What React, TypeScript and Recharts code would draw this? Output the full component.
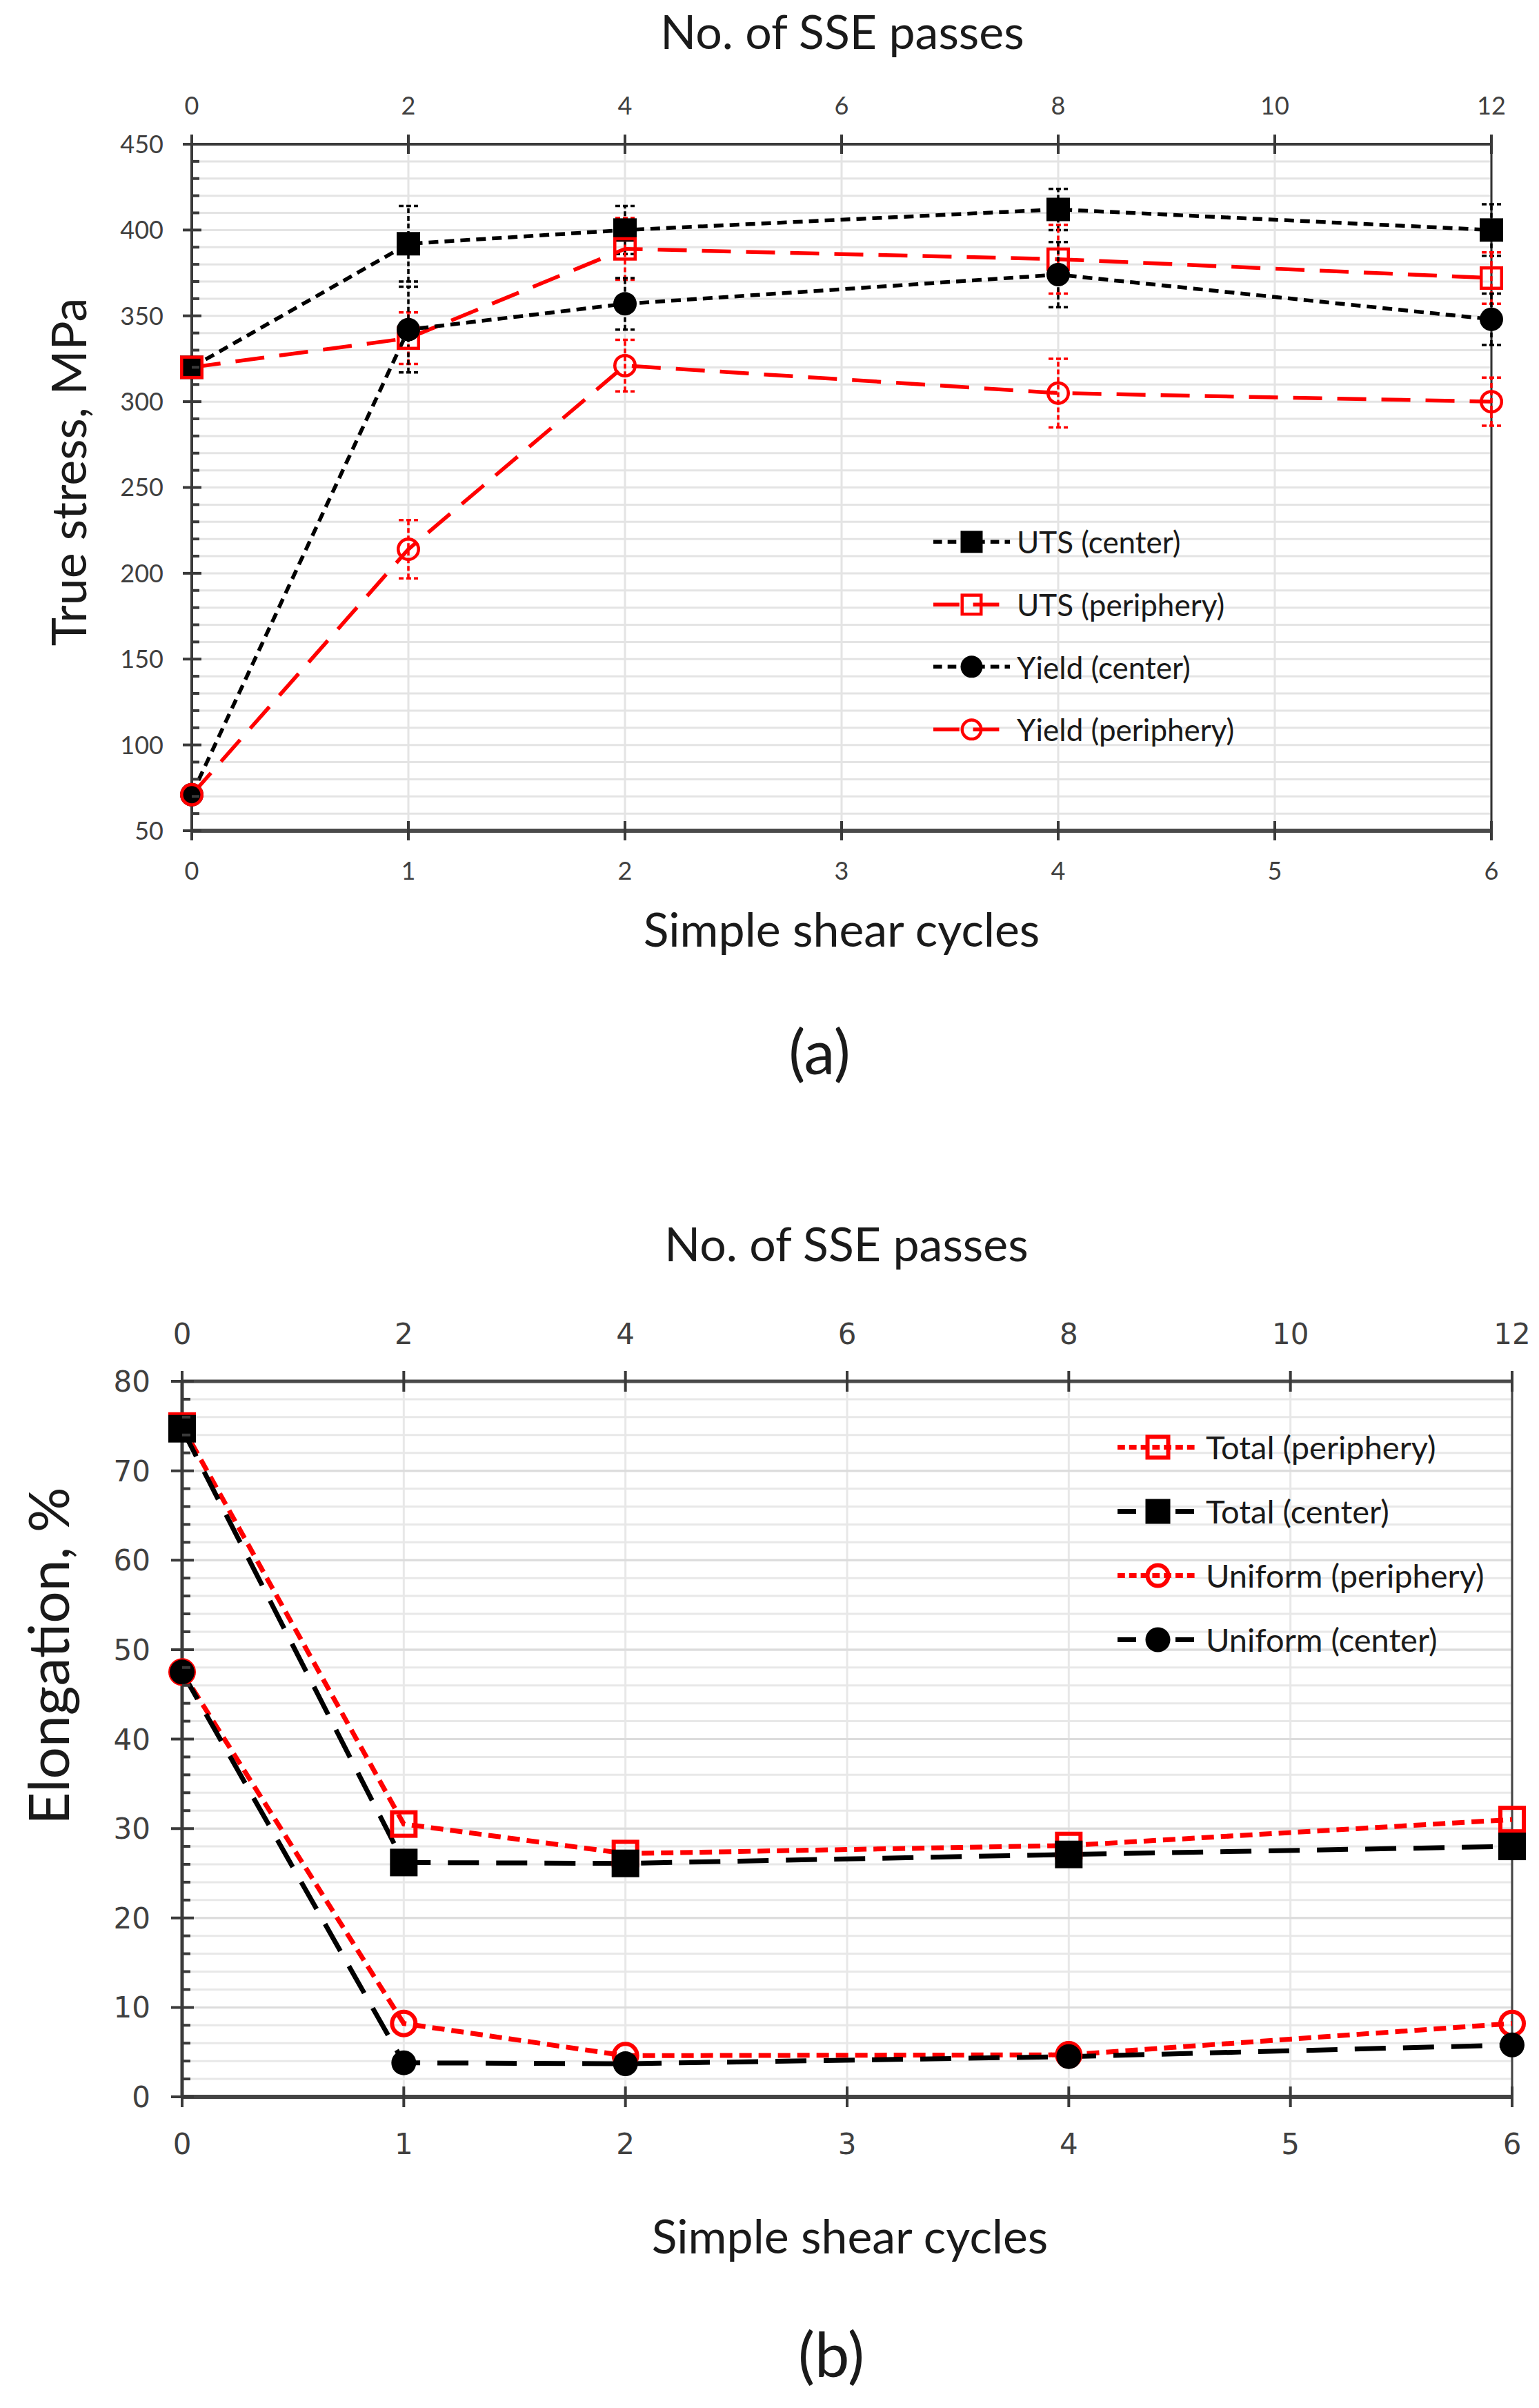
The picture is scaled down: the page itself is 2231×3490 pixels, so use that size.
import React from 'react';
import { LineChart, Line, XAxis, YAxis, CartesianGrid, ReferenceLine, ErrorBar, Legend } from 'recharts';

// ---------- data: chart (a) ----------
const cycles = [0, 1, 2, 4, 6];
const passes = [0, 2, 4, 8, 12];
const utsCenter = [320, 392, 400, 412, 400];
const utsPeriphery = [320, 337, 389, 383, 372];
const yieldCenter = [71, 342, 357, 374, 348];
const yieldPeriphery = [71, 214, 321, 305, 300];
const utsCenterErr = [0, 22, 14, 12, 15];
const utsPeripheryErr = [0, 15, 18, 20, 15];
const yieldCenterErr = [0, 25, 15, 19, 15];
const yieldPeripheryErr = [0, 17, 15, 20, 14];

// ---------- data: chart (b) ----------
const totalPeriphery = [75, 30.5, 27.2, 28.1, 31];
const totalCenter = [74.7, 26.2, 26.1, 27.1, 28];
const uniformPeriphery = [47.5, 8.2, 4.6, 4.7, 8.2];
const uniformCenter = [47.5, 3.8, 3.7, 4.5, 5.8];

// ---------- ticks ----------
const cycleTicks = [0, 1, 2, 3, 4, 5, 6];
const passTicks = [0, 2, 4, 6, 8, 10, 12];
const stressTicks = [50, 100, 150, 200, 250, 300, 350, 400, 450];
const elongTicks = [0, 10, 20, 30, 40, 50, 60, 70, 80];
const stressMinor: number[] = [];
for (let v = 50; v <= 450; v += 10) stressMinor.push(v);
const elongMinor: number[] = [];
for (let v = 0; v <= 80; v += 2) elongMinor.push(v);

const dataA = cycles.map((c, i) => ({
  cycle: c,
  passes: passes[i],
  utsC: utsCenter[i],
  utsP: utsPeriphery[i],
  yC: yieldCenter[i],
  yP: yieldPeriphery[i],
  utsCErr: utsCenterErr[i],
  utsPErr: utsPeripheryErr[i],
  yCErr: yieldCenterErr[i],
  yPErr: yieldPeripheryErr[i],
}));

const dataB = cycles.map((c, i) => ({
  cycle: c,
  passes: passes[i],
  tP: totalPeriphery[i],
  tC: totalCenter[i],
  uP: uniformPeriphery[i],
  uC: uniformCenter[i],
}));

const RED = '#ff0000';
const BLK = '#000000';
const LATO = "Lato, 'Open Sans', sans-serif";
const DEJAVU = "'DejaVu Sans', Verdana, sans-serif";

const seriesA = [
  { key: 'utsC', err: 'utsCErr', name: 'UTS (center)', color: BLK, dash: '14 9', shape: 'square', filled: true },
  { key: 'utsP', err: 'utsPErr', name: 'UTS (periphery)', color: RED, dash: '42 22', shape: 'square', filled: false },
  { key: 'yC', err: 'yCErr', name: 'Yield (center)', color: BLK, dash: '14 9', shape: 'circle', filled: true },
  { key: 'yP', err: 'yPErr', name: 'Yield (periphery)', color: RED, dash: '42 22', shape: 'circle', filled: false },
];

const seriesB = [
  { key: 'tP', name: 'Total (periphery)', color: RED, dash: '18 10', shape: 'square', filled: false },
  { key: 'tC', name: 'Total (center)', color: BLK, dash: '45 25', shape: 'square', filled: true },
  { key: 'uP', name: 'Uniform (periphery)', color: RED, dash: '18 10', shape: 'circle', filled: false },
  { key: 'uC', name: 'Uniform (center)', color: BLK, dash: '45 25', shape: 'circle', filled: true },
];

function Marker({ cx, cy, shape, filled, color, size, sw }: any) {
  if (cx == null || cy == null) return null;
  const h = size / 2;
  if (shape === 'square') {
    return filled ? (
      <rect x={cx - h} y={cy - h} width={size} height={size} fill={color} />
    ) : (
      <rect x={cx - h + sw / 2} y={cy - h + sw / 2} width={size - sw} height={size - sw} fill="none" stroke={color} strokeWidth={sw} />
    );
  }
  return filled ? (
    <circle cx={cx} cy={cy} r={h} fill={color} />
  ) : (
    <circle cx={cx} cy={cy} r={h - sw / 2} fill="none" stroke={color} strokeWidth={sw} />
  );
}

const makeYTick = (o: any) => (props: any) => {
  const { x, y, payload } = props;
  const v = payload.value;
  const major = o.majors.includes(v);
  return (
    <g>
      <line
        x1={major ? x - o.out : x}
        x2={x + (major ? o.inMajor : o.inMinor)}
        y1={y}
        y2={y}
        stroke={o.color}
        strokeWidth={o.sw}
      />
      {major && (
        <text x={x - o.gap} y={y} dy={o.fs * 0.36} textAnchor="end" fontFamily={o.font} fontSize={o.fs} fill={o.text}>
          {v}
        </text>
      )}
    </g>
  );
};

const makeXTick = (o: any) => (props: any) => {
  const { x, y, payload } = props;
  const dir = o.top ? -1 : 1;
  return (
    <g>
      <line x1={x} x2={x} y1={y - dir * o.inside} y2={y + dir * o.out} stroke={o.color} strokeWidth={o.sw} />
      <text
        x={x}
        y={y + dir * o.gap}
        dy={o.fs * 0.36}
        textAnchor="middle"
        fontFamily={o.font}
        fontSize={o.fs}
        fill={o.text}
      >
        {payload.value}
      </text>
    </g>
  );
};

const makeLegend = (series: any[], o: any) => () => (
  <div style={{ display: 'flex', flexDirection: 'column' }}>
    {series.map((s) => (
      <div key={s.key} style={{ height: o.row, display: 'flex', alignItems: 'center' }}>
        <svg width={o.iconW} height={o.row} style={{ display: 'block' }}>
          <line x1={0} x2={o.iconW} y1={o.row / 2} y2={o.row / 2} stroke={s.color} strokeWidth={o.lw} strokeDasharray={s.dash.split(' ').map((d: string) => Number(d) * o.dashScale).join(' ')} />
          <Marker cx={o.iconW / 2} cy={o.row / 2} shape={s.shape} filled={s.filled} color={s.color} size={o.size} sw={o.msw} />
        </svg>
        <span style={{ marginLeft: o.textGap, fontFamily: LATO, fontSize: o.fs, color: '#1a1a1a', whiteSpace: 'nowrap', lineHeight: 1 }}>
          {s.name}
        </span>
      </div>
    ))}
  </div>
);

function Title({ x, y, text, size, rotate }: any) {
  return (
    <div
      style={{
        position: 'absolute',
        left: x,
        top: y,
        transform: `translate(-50%, -50%)${rotate ? ' rotate(-90deg)' : ''}`,
        fontFamily: LATO,
        fontSize: size,
        lineHeight: 1,
        whiteSpace: 'nowrap',
        color: '#1a1a1a',
      }}
    >
      {text}
    </div>
  );
}

function ChartA() {
  const axisColor = '#3a3a3a';
  const yTick = makeYTick({ majors: stressTicks, out: 13, inMajor: 14, inMinor: 11, sw: 4, gap: 41, fs: 36, font: LATO, text: '#404040', color: axisColor });
  const xBottom = makeXTick({ top: false, inside: 14, out: 14, sw: 4, gap: 58, fs: 36, font: LATO, text: '#404040', color: axisColor });
  const xTop = makeXTick({ top: true, inside: 14, out: 14, sw: 4, gap: 56, fs: 36, font: LATO, text: '#404040', color: axisColor });
  return (
    <div style={{ position: 'absolute', left: 0, top: 0 }}>
      <LineChart width={2231} height={1304} data={dataA} margin={{ top: 0, right: 69, bottom: 0, left: 0 }}>
        <CartesianGrid xAxisId="bottom" yAxisId="left" horizontalValues={stressMinor} verticalValues={cycleTicks} stroke="#e4e4e4" strokeWidth={3} />
        <XAxis xAxisId="bottom" dataKey="cycle" type="number" domain={[0, 6]} ticks={cycleTicks} interval={0} height={100} tickSize={0} tickMargin={0} tickLine={false} tick={xBottom} axisLine={{ stroke: '#4a4a4a', strokeWidth: 6 }} />
        <XAxis xAxisId="top" orientation="top" dataKey="passes" type="number" domain={[0, 12]} ticks={passTicks} interval={0} height={209} tickSize={0} tickMargin={0} tickLine={false} tick={xTop} axisLine={{ stroke: axisColor, strokeWidth: 4 }} />
        <YAxis yAxisId="left" type="number" domain={[50, 450]} ticks={stressMinor} interval={0} width={278} tickSize={0} tickMargin={0} tickLine={false} tick={yTick} allowDataOverflow axisLine={{ stroke: axisColor, strokeWidth: 4 }} />
        <ReferenceLine xAxisId="bottom" yAxisId="left" x={6} stroke="#333" strokeWidth={3} />
        {seriesA.map((s) => (
          <Line
            key={s.key}
            xAxisId="bottom"
            yAxisId="left"
            type="linear"
            dataKey={s.key}
            name={s.name}
            stroke={s.color}
            strokeWidth={5.5}
            strokeDasharray={s.dash}
            isAnimationActive={false}
            activeDot={false}
            dot={(p: any) => <Marker key={`${s.key}-${p.index}`} cx={p.cx} cy={p.cy} shape={s.shape} filled={s.filled} color={s.color} size={34} sw={4.5} />}
          >
            <ErrorBar dataKey={s.err} direction="y" width={14} stroke={s.color} strokeWidth={3.5} strokeDasharray="7 4" />
          </Line>
        ))}
        <Legend
          layout="vertical"
          align="center"
          verticalAlign="middle"
          wrapperStyle={{ left: 1353, top: 740, width: 700, height: 370 }}
          content={makeLegend(seriesA, { row: 90.7, iconW: 111, lw: 5.5, size: 32, msw: 4.5, textGap: 10, fs: 44, dashScale: 0.9 })}
        />
      </LineChart>
    </div>
  );
}

function ChartB() {
  const axisColor = '#3a3a3a';
  const yTick = makeYTick({ majors: elongTicks, out: 16, inMajor: 17, inMinor: 12, sw: 4, gap: 46, fs: 42, font: DEJAVU, text: '#404040', color: axisColor });
  const xBottom = makeXTick({ top: false, inside: 15, out: 15, sw: 4, gap: 68, fs: 42, font: DEJAVU, text: '#404040', color: axisColor });
  const xTop = makeXTick({ top: true, inside: 15, out: 15, sw: 4, gap: 69, fs: 42, font: DEJAVU, text: '#404040', color: axisColor });
  return (
    <div style={{ position: 'absolute', left: 0, top: 1750 }}>
      <LineChart width={2231} height={1399} data={dataB} margin={{ top: 0, right: 39, bottom: 0, left: 0 }}>
        <CartesianGrid xAxisId="bottom" yAxisId="left" horizontalValues={elongMinor} verticalValues={cycleTicks} stroke="#e8e8e8" strokeWidth={3} />
        <CartesianGrid xAxisId="bottom" yAxisId="left" horizontalValues={elongTicks} vertical={false} stroke="#dcdcdc" strokeWidth={3} />
        <XAxis xAxisId="bottom" dataKey="cycle" type="number" domain={[0, 6]} ticks={cycleTicks} interval={0} height={110} tickSize={0} tickMargin={0} tickLine={false} tick={xBottom} axisLine={{ stroke: '#444', strokeWidth: 6 }} />
        <XAxis xAxisId="top" orientation="top" dataKey="passes" type="number" domain={[0, 12]} ticks={passTicks} interval={0} height={252} tickSize={0} tickMargin={0} tickLine={false} tick={xTop} axisLine={{ stroke: '#4a4a4a', strokeWidth: 5 }} />
        <YAxis yAxisId="left" type="number" domain={[0, 80]} ticks={elongMinor} interval={0} width={264} tickSize={0} tickMargin={0} tickLine={false} tick={yTick} allowDataOverflow axisLine={{ stroke: axisColor, strokeWidth: 5 }} />
        <ReferenceLine xAxisId="bottom" yAxisId="left" x={6} stroke="#444" strokeWidth={3} />
        {seriesB.map((s) => (
          <Line
            key={s.key}
            xAxisId="bottom"
            yAxisId="left"
            type="linear"
            dataKey={s.key}
            name={s.name}
            stroke={s.color}
            strokeWidth={7}
            strokeDasharray={s.dash}
            isAnimationActive={false}
            activeDot={false}
            dot={(p: any) => <Marker key={`${s.key}-${p.index}`} cx={p.cx} cy={p.cy} shape={s.shape} filled={s.filled} color={s.color} size={s.filled && s.shape === 'circle' ? 36 : 40} sw={6} />}
          />
        ))}
        <Legend
          layout="vertical"
          align="center"
          verticalAlign="middle"
          wrapperStyle={{ left: 1620, top: 301, width: 600, height: 380 }}
          content={makeLegend(seriesB, { row: 93, iconW: 117, lw: 7, size: 36, msw: 6, textGap: 11, fs: 47, dashScale: 0.6 })}
        />
      </LineChart>
    </div>
  );
}

export default function App() {
  return (
    <div style={{ position: 'absolute', left: 0, top: 0, width: 2231, height: 3490, background: '#ffffff', overflow: 'hidden' }}>
      <ChartA />
      <ChartB />
      <Title x={1221} y={45} text="No. of SSE passes" size={68} />
      <Title x={98} y={684} text="True stress, MPa" size={70} rotate />
      <Title x={1220} y={1346} text="Simple shear cycles" size={68} />
      <Title x={1188} y={1522} text="(a)" size={90} />
      <Title x={1227} y={1802} text="No. of SSE passes" size={68} />
      <Title x={68} y={2400} text="Elongation, %" size={82} rotate />
      <Title x={1232} y={3240} text="Simple shear cycles" size={68} />
      <Title x={1205} y={3410} text="(b)" size={90} />
    </div>
  );
}
